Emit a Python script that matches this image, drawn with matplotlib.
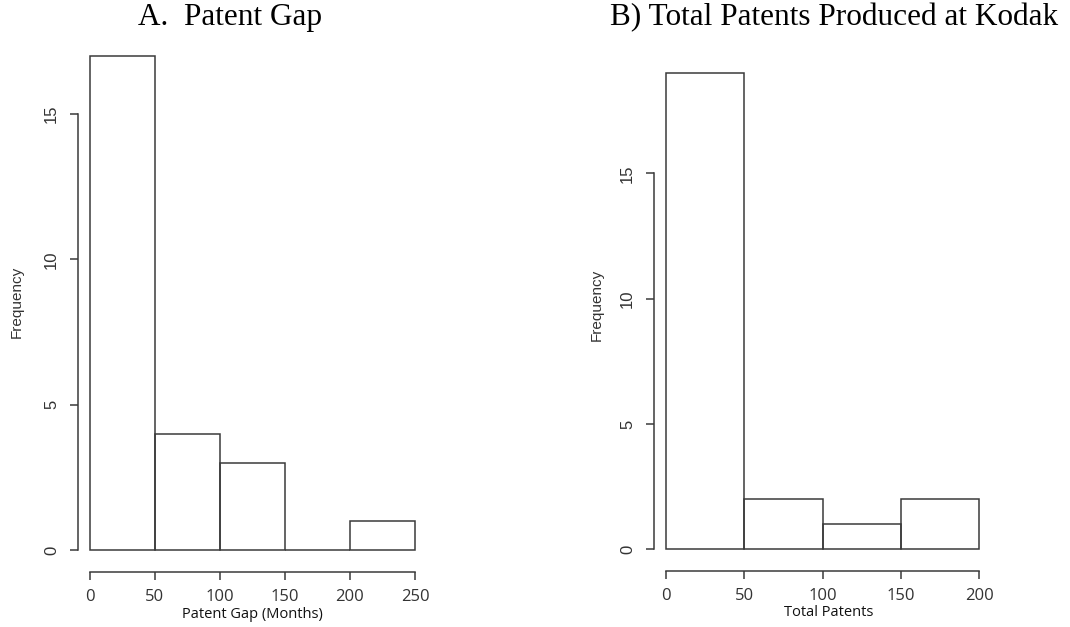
import numpy as np
import matplotlib
matplotlib.use("Agg")
import matplotlib.pyplot as plt

# ---- data ----
gap_edges = [0, 50, 100, 150, 200, 250]
gap_counts = [17, 4, 3, 0, 1]
tot_edges = [0, 50, 100, 150, 200]
tot_counts = [19, 2, 1, 2]

title_a = "A.  Patent Gap"
title_b = "B) Total Patents Produced at Kodak"
xlabel_a = "Patent Gap (Months)"
xlabel_b = "Total Patents"
ylabel = "Frequency"
yticks = [0, 5, 10, 15]
xticks_a = [0, 50, 100, 150, 200, 250]
xticks_b = [0, 50, 100, 150, 200]

W, H = 1070, 627
fig = plt.figure(figsize=(W / 100, H / 100), dpi=100)
fig.patch.set_facecolor("white")

LINE = "#3a3a3a"
TXT = "#333333"


def px_axes(x0, x1, y0, y1):
    # x0,x1 pixel left/right; y0 pixel bottom (baseline), y1 pixel top
    return fig.add_axes([x0 / W, 1 - y0 / H, (x1 - x0) / W, (y0 - y1) / H])


def style(ax, edges, counts, xticks, ymax, xlab, xlab_pos, ylab_pos):
    edges = np.asarray(edges, dtype=float)
    ax.bar(edges[:-1], counts, width=np.diff(edges), align="edge",
           fill=False, edgecolor=LINE, linewidth=1.1, clip_on=False)
    ax.set_xlim(edges[0], edges[-1])
    ax.set_ylim(0, ymax)
    for s in ["top", "right"]:
        ax.spines[s].set_visible(False)
    ax.spines["left"].set_position(("outward", 9))
    ax.spines["bottom"].set_position(("outward", 15.5))
    ax.spines["left"].set_bounds(yticks[0], yticks[-1])
    ax.spines["bottom"].set_bounds(xticks[0], xticks[-1])
    for s in ["left", "bottom"]:
        ax.spines[s].set_color(LINE)
        ax.spines[s].set_linewidth(1.1)
    ax.set_yticks(yticks)
    ax.set_xticks(xticks)
    ax.tick_params(axis="both", length=5.8, width=1.1, color=LINE, labelcolor=TXT)
    ax.tick_params(axis="y", pad=7.5)
    ax.tick_params(axis="x", pad=6.5)
    for lab in ax.get_yticklabels():
        lab.set_rotation(90)
        lab.set_va("center")
        lab.set_family("Liberation Sans")
        lab.set_fontsize(12)
    for lab in ax.get_xticklabels():
        lab.set_family("Open Sans")
        lab.set_fontsize(12)
    ax.set_xlabel(xlab, family="Open Sans", fontsize=10.5, color="#111111")
    ax.xaxis.label.set_va("center")
    ax.xaxis.set_label_coords(*xlab_pos)
    ax.set_ylabel(ylabel, family="Liberation Sans", fontsize=11, color=TXT)
    ax.yaxis.label.set_va("center")
    ax.yaxis.set_label_coords(*ylab_pos)
    ax.set_facecolor("none")


# left panel: 0 at x=90, 250 at x=415; baseline y=550, 17 at y=55.8
ax1 = px_axes(90, 415, 550, 55.8)
style(ax1, gap_edges, gap_counts, xticks_a, 17, xlabel_a,
      (0.5, -(615 - 550) / 494.2), ((17 - 90) / 325, (550 - 302) / 494.2))

# right panel: 0 at x=666, 200 at x=979; baseline y=549.3, 19 at y=73
ax2 = px_axes(666, 979, 549.3, 73)
style(ax2, tot_edges, tot_counts, xticks_b, 19, xlabel_b,
      ((829 - 666) / 313, -(612 - 549.3) / 476.3), ((597 - 666) / 313, (549.3 - 305) / 476.3))

fig.text(230 / W, 1 - 18 / H, title_a, family="Liberation Serif", fontsize=22.5,
         ha="center", va="center", color="black")
fig.text(834 / W, 1 - 18 / H, title_b, family="Liberation Serif", fontsize=22.5,
         ha="center", va="center", color="black")

fig.savefig("out.png", dpi=100, facecolor="white")
